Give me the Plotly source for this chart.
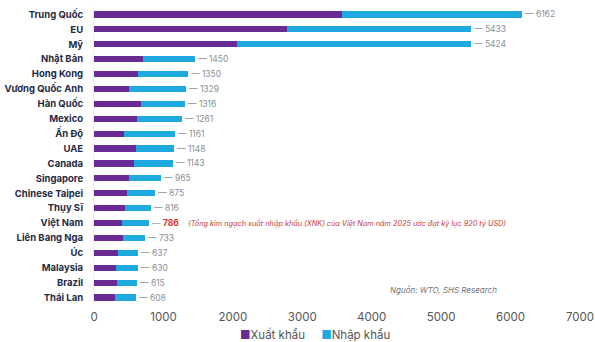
import plotly.graph_objects as go

# Kim ngạch xuất nhập khẩu hàng hóa (tỷ USD)
countries = ["Trung Quốc", "EU", "Mỹ", "Nhật Bản", "Hong Kong", "Vương Quốc Anh",
             "Hàn Quốc", "Mexico", "Ấn Độ", "UAE", "Canada", "Singapore",
             "Chinese Taipei", "Thụy Sĩ", "Việt Nam", "Liên Bang Nga", "Úc",
             "Malaysia", "Brazil", "Thái Lan"]
exports = [3577, 2780, 2065, 707, 633, 505, 684, 617, 437, 604, 569, 500,
           475, 446, 405, 420, 340, 322, 337, 300]
totals = [6162, 5433, 5424, 1450, 1350, 1329, 1316, 1261, 1161, 1148, 1143, 965,
          875, 816, 786, 733, 637, 630, 615, 608]
imports = [t - e for t, e in zip(totals, exports)]
x_ticks = [0, 1000, 2000, 3000, 4000, 5000, 6000, 7000]
series_names = ["Xuất khẩu", "Nhập khẩu"]

highlight = "Việt Nam"
PURPLE = "#6a2a94"
BLUE = "#1ea9e1"

fig = go.Figure()
fig.add_trace(go.Bar(y=countries, x=exports, orientation="h", name=series_names[0],
                     marker=dict(color=PURPLE, line_width=0)))
fig.add_trace(go.Bar(y=countries, x=imports, orientation="h", name=series_names[1],
                     marker=dict(color=BLUE, line_width=0)))

# Tổng kim ngạch ở cuối mỗi thanh
for c, t in zip(countries, totals):
    if c == highlight:
        txt = "<span style='color:#9aa3ad'>— </span><b>%d</b>" % t
        col = "#d9302c"
    else:
        txt = "— %d" % t
        col = "#8a8f96"
    fig.add_annotation(x=t, y=c, text=txt, showarrow=False, xanchor="left",
                       xshift=1, font=dict(size=8.5, color=col, family="Inter"))

fig.add_annotation(x=1330, y=highlight, xanchor="left", showarrow=False,
                   text="<i>(Tổng kim ngạch xuất nhập khẩu (XNK) của Việt Nam năm 2025 ước đạt kỷ lục 920 tỷ USD)</i>",
                   font=dict(size=7.3, color="#c23a3a", family="Inter"))
fig.add_annotation(x=5040, y="Brazil", xanchor="center", yshift=-7, showarrow=False,
                   text="<i>Nguồn: WTO, SHS Research</i>",
                   font=dict(size=8, color="#6f7378", family="Inter"))

# Chú thích dạng chữ bên dưới trục hoành
legend_txt = ("<span style='color:%s'>■</span>%s     <span style='color:%s'>■</span>%s"
              % (PURPLE, series_names[0], BLUE, series_names[1]))
fig.add_annotation(xref="paper", yref="paper", x=0.455, y=-0.1, xanchor="center",
                   yanchor="middle", showarrow=False, text=legend_txt,
                   font=dict(size=11.5, color="#555", family="Inter"))

fig.update_layout(
    width=595, height=342,
    margin=dict(l=94, r=15, t=7, b=37),
    barmode="stack", bargap=0.58,
    showlegend=False,
    plot_bgcolor="white", paper_bgcolor="white",
    font=dict(family="Inter", color="#333"),
    xaxis=dict(range=[0, 7000], tickvals=x_ticks, showgrid=False, zeroline=False,
               showline=False, ticks="", tickfont=dict(size=11.5, color="#555"),
               ticklabelstandoff=3, ticklabeloverflow="allow", automargin=False),
    yaxis=dict(categoryorder="array", categoryarray=countries[::-1], autorange=True,
               showgrid=False, showline=True, linecolor="#eeeeee", linewidth=1,
               ticks="", ticklabelstandoff=8, automargin=False,
               tickfont=dict(size=9.5, color="#1f2a44", family="Inter")),
)
fig.update_yaxes(tickvals=countries, ticktext=["<b>%s</b>" % c for c in countries])

fig.write_html("out.html")
